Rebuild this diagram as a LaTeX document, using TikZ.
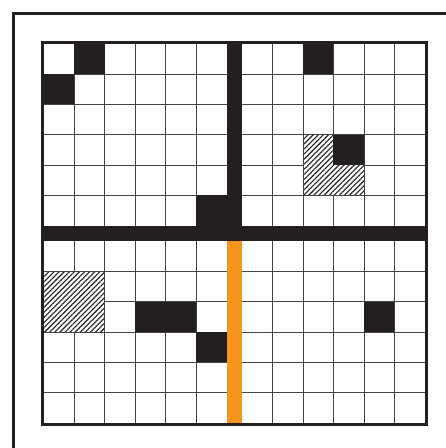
\documentclass[tikz,border=0pt]{standalone}
\usepackage{tikz}
\usetikzlibrary{patterns.meta}
\definecolor{ink}{HTML}{231F20}
\definecolor{lane}{HTML}{F7941D}
\tikzset{
gridline/.style={draw=ink!85,line width=0.8pt},
blocked/.style={fill=ink},
hatched/.style={preaction={fill=white},pattern={Lines[angle=45,distance=3.6pt,line width=1.1pt]},pattern color=ink},
wall/.style={fill=ink},
lanebar/.style={fill=lane},
boardframe/.style={draw=ink,line width=3pt},
outerframe/.style={draw=ink,line width=3pt}
}
\begin{document}
\begin{tikzpicture}[x=30.5pt,y=30.35pt]
\clip (-43.7pt,-25pt) rectangle (402.3pt,423pt);
\fill[white] (-43.7pt,-25pt) rectangle (402.3pt,423pt);
\draw[outerframe] (-29.9pt,-60pt) rectangle (440pt,409.2pt);
\foreach \i in {1,...,5}{
  \draw[gridline] (\i,0) -- (\i,12.5);
  \draw[gridline] ({\i+6.5},0) -- ({\i+6.5},12.5);
  \draw[gridline] (0,\i) -- (12.5,\i);
  \draw[gridline] (0,{\i+6.5}) -- (12.5,{\i+6.5});
}
\fill[blocked] (1,11.5) rectangle (2,12.5);
\fill[blocked] (0,10.5) rectangle (1,11.5);
\fill[blocked] (5,6.5) rectangle (6,7.5);
\fill[blocked] (8.5,11.5) rectangle (9.5,12.5);
\draw[gridline,hatched] (8.5,7.5) rectangle (10.5,9.5);
\fill[blocked] (9.5,8.5) rectangle (10.5,9.5);
\draw[gridline,hatched] (0,3) rectangle (2,5);
\fill[blocked] (3,3) rectangle (5,4);
\fill[blocked] (5,2) rectangle (6,3);
\fill[blocked] (10.5,3) rectangle (11.5,4);
\fill[wall] (0,6) rectangle (12.5,6.5);
\fill[wall] (6,6.5) rectangle (6.5,12.5);
\fill[lanebar] (6,0) rectangle (6.5,6);
\draw[boardframe] ([shift={(-1.5pt,-1.5pt)}]0,0) rectangle ([shift={(1.5pt,1.5pt)}]12.5,12.5);
\end{tikzpicture}
\end{document}
